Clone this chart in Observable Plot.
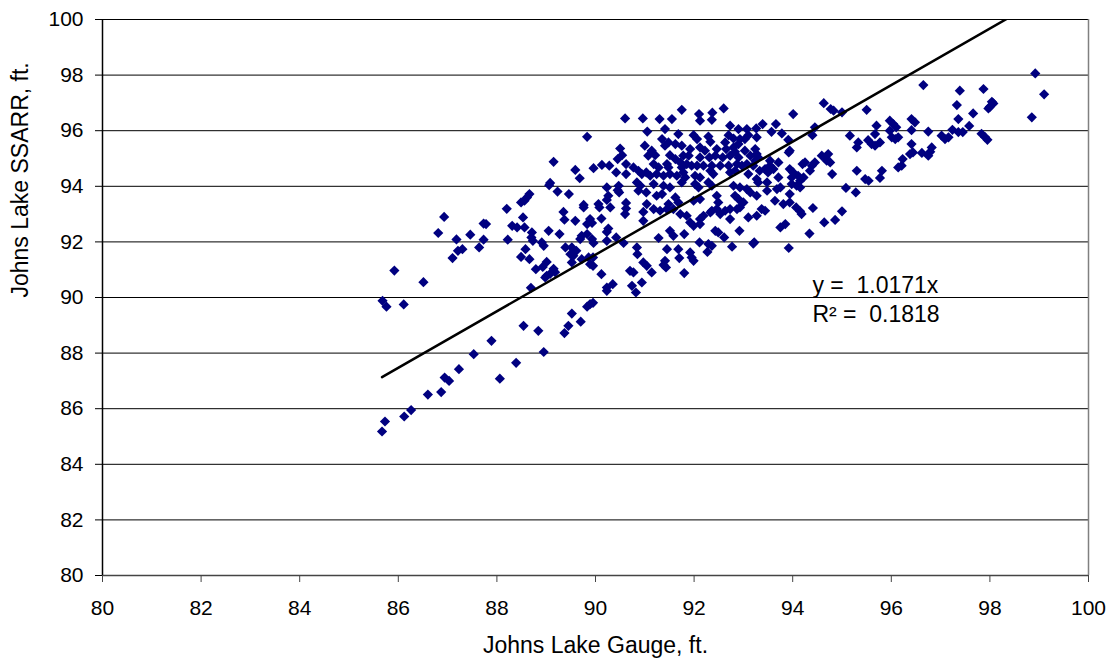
<!DOCTYPE html>
<html>
<head>
<meta charset="utf-8">
<script src="https://cdn.jsdelivr.net/npm/d3@7"></script>
<script src="https://cdn.jsdelivr.net/npm/@observablehq/plot@0.6"></script>
<style>
  html, body { margin: 0; padding: 0; background: #fff; }
  #chart { width: 1111px; height: 666px; }
</style>
</head>
<body>
<div id="chart"></div>
<script>
// [Johns Lake Gauge ft, Johns Lake SSARR ft]
const westPoints = [[88.66,93.72],[88.61,93.60],[88.56,93.48],[88.49,93.42],[88.20,93.19],[86.93,92.90],[88.53,92.88],[87.78,92.64],[87.73,92.66],[88.31,92.58],[88.41,92.52],[88.56,92.52],[86.81,92.32],[87.46,92.26],[88.71,92.34],[88.73,92.04],[88.70,92.16],[87.18,92.09],[87.73,92.08],[88.22,92.08],[88.91,91.98],[88.95,91.86],[89.05,92.40],[87.30,91.74],[87.21,91.68],[87.64,91.80],[88.58,91.74],[88.49,91.46],[88.66,91.38],[87.10,91.42],[89.01,91.28],[88.79,91.02],[88.93,91.10],[85.92,90.97],[89.01,90.78],[88.98,90.72],[86.51,90.55],[88.69,90.35],[85.68,89.88],[85.76,89.67],[86.11,89.75],[88.54,88.98],[88.84,88.80],[87.89,88.44],[87.53,87.96],[88.95,88.04],[88.39,87.65],[87.23,87.42],[86.94,87.12],[87.03,87.00],[88.06,87.08],[86.60,86.51],[86.87,86.60],[86.26,85.95],[86.12,85.72],[85.73,85.54],[85.67,85.18]];

const lowerPoints = [[89.52,89.42],[89.45,88.98],[89.37,88.72],[89.70,89.13],[89.89,89.76],[89.83,89.67],[89.95,89.81],[90.23,90.24],[90.82,90.18],[93.20,91.94],[93.92,91.78]];

const upperLeftPoints = [[90.60,96.44],[90.96,96.44],[91.05,95.97],[89.83,95.78],[91.00,95.46],[90.50,95.36],[90.54,95.12],[90.45,94.98],[91.07,95.10],[89.15,94.88],[90.62,94.80],[89.59,94.59],[89.68,94.29],[89.96,94.65],[90.13,94.77],[90.28,94.74],[90.42,94.50],[90.62,94.44],[90.77,94.68],[90.87,94.56],[90.94,94.44],[91.03,94.50],[90.84,94.14],[90.91,94.02],[90.87,93.84],[89.08,94.12],[89.06,94.04],[89.23,93.81],[89.46,93.72],[90.23,93.96],[90.26,93.66],[90.23,93.51],[90.47,94.02],[90.45,93.86],[90.48,93.78],[91.03,93.78],[89.76,93.33],[90.06,93.36],[90.62,93.40],[91.04,93.36]];

const midLeftPoints = [[89.35,93.08],[89.37,92.80],[89.76,93.24],[90.08,93.24],[90.30,93.24],[90.62,93.20],[90.60,93.00],[90.97,93.08],[89.59,92.76],[89.89,92.82],[89.83,92.64],[89.93,92.68],[90.12,92.84],[90.97,92.76],[89.27,92.28],[90.26,92.48],[90.23,92.36],[89.72,92.22],[89.83,92.28],[89.69,92.10],[89.93,92.10],[89.96,91.96],[89.39,91.80],[89.52,91.80],[89.61,91.68],[89.49,91.56],[89.55,91.50],[90.23,92.04],[90.42,92.16],[90.57,91.96],[90.84,91.80],[90.85,91.56],[89.72,91.38],[89.86,91.44],[89.95,91.44],[89.52,91.26],[89.89,91.20],[89.95,91.14],[89.15,91.03],[89.08,90.85],[89.18,90.91],[90.97,91.26],[91.04,91.14],[90.12,90.84],[90.70,90.96],[90.77,90.90],[90.23,90.36],[90.35,90.48],[90.74,90.42],[90.94,90.54]];

const corePoints = [[91.75,96.75],[92.10,96.60],[92.37,96.65],[92.60,96.80],[91.30,96.42],[91.55,96.42],[92.12,96.36],[92.36,96.39],[91.41,96.06],[92.73,96.18],[92.90,96.06],[93.07,96.06],[93.26,96.08],[91.68,95.88],[91.99,95.84],[92.06,95.70],[92.29,95.79],[92.33,95.60],[92.70,95.84],[92.80,95.72],[92.93,95.70],[91.35,95.70],[91.41,95.46],[91.48,95.58],[91.62,95.52],[91.75,95.46],[92.63,95.58],[92.65,95.34],[92.80,95.40],[92.90,95.52],[93.03,95.70],[93.10,95.84],[93.27,95.76],[91.14,95.28],[91.21,95.12],[91.92,95.34],[92.12,95.40],[92.22,95.28],[92.46,95.34],[91.51,95.12],[91.62,94.98],[91.78,95.10],[91.89,95.10],[92.12,95.04],[92.31,95.04],[92.43,95.10],[92.58,95.04],[92.73,95.10],[92.83,95.24],[92.90,95.04],[93.03,95.28],[93.14,95.10],[93.27,95.16],[93.24,95.34],[91.18,94.80],[91.28,94.68],[91.45,94.80],[91.48,94.68],[91.72,94.86],[91.75,94.68],[91.85,94.80],[91.95,94.74],[92.06,94.74],[92.19,94.74],[92.36,94.74],[92.53,94.74],[92.70,94.74],[92.87,94.80],[92.97,94.74],[93.07,94.80],[93.20,94.74],[91.11,94.38],[91.24,94.44],[91.38,94.38],[91.51,94.44],[91.65,94.38],[91.78,94.50],[91.82,94.32],[92.02,94.38],[92.12,94.32],[92.33,94.56],[92.39,94.44],[92.73,94.50],[92.83,94.56],[93.10,94.44],[93.24,94.92],[93.30,95.04],[91.18,94.08],[91.38,94.02],[91.51,93.96],[91.75,94.14],[92.02,94.08],[92.09,93.96],[92.29,94.14],[92.36,94.02],[92.80,94.02],[92.93,93.96],[93.07,93.90],[93.14,93.78],[93.27,94.26],[93.30,94.14],[91.24,93.66],[91.35,93.72],[91.62,93.60],[91.68,93.42],[91.48,93.36],[91.99,93.48],[92.12,93.54],[92.46,93.66],[92.49,93.42],[92.83,93.66],[92.90,93.54],[93.00,93.42],[93.27,93.66]];

const coreLowerPoints = [[91.18,93.18],[91.31,93.12],[91.45,93.18],[91.58,93.18],[91.72,93.00],[91.85,92.94],[91.92,92.70],[91.99,92.58],[92.12,92.82],[92.19,92.94],[92.12,92.64],[92.36,93.12],[92.46,93.18],[92.63,93.12],[92.73,93.18],[92.87,93.18],[92.93,93.24],[92.33,93.06],[92.53,93.00],[92.73,92.82],[93.10,92.88],[93.27,92.94],[91.51,92.40],[91.58,92.22],[91.80,92.28],[91.28,92.14],[92.43,92.40],[92.49,92.34],[92.61,92.16],[92.92,92.40],[92.11,91.98],[92.29,91.92],[92.36,91.86],[92.27,91.64],[92.77,91.83],[93.22,91.98],[91.45,91.74],[91.68,91.74],[91.70,91.42],[91.92,91.62],[91.95,91.44],[91.99,91.32],[91.41,91.32],[91.43,91.08],[91.38,91.17],[91.14,90.90],[91.80,90.88]];

const eastPoints = [[94.63,96.99],[94.77,96.78],[94.83,96.72],[95.00,96.66],[95.50,96.75],[94.01,96.60],[93.39,96.24],[93.66,96.24],[93.57,95.96],[93.78,95.90],[94.45,96.12],[94.40,95.84],[95.70,96.18],[95.67,95.88],[95.16,95.82],[95.97,96.36],[96.04,96.24],[96.10,96.12],[95.97,96.00],[96.01,95.76],[96.08,95.70],[96.14,95.76],[96.41,96.42],[96.48,96.30],[96.41,96.02],[93.91,95.67],[95.33,95.58],[95.30,95.40],[95.53,95.66],[95.60,95.52],[95.67,95.46],[95.77,95.58],[96.41,95.52],[96.44,95.22],[96.38,95.16],[93.94,95.28],[93.92,95.22],[94.72,95.16],[94.66,95.04],[94.59,95.10],[94.76,94.86],[94.69,94.92],[94.45,94.86],[94.39,94.74],[94.35,94.56],[94.25,94.86],[94.20,94.80],[93.54,94.92],[93.71,94.86],[96.23,94.98],[96.14,94.68],[96.21,94.74],[94.80,94.44],[95.30,94.56],[95.81,94.56],[95.77,94.30],[95.47,94.26],[95.54,94.20],[93.33,94.56],[93.44,94.62],[93.50,94.50],[93.61,94.62],[93.54,94.74],[93.94,94.62],[94.01,94.50],[94.11,94.38],[93.98,94.32],[94.22,94.32],[94.15,94.20],[93.71,94.32],[93.75,93.96],[93.68,93.90],[93.48,94.14],[93.48,93.84],[93.98,94.08],[94.08,94.02],[94.15,93.96],[95.08,93.94],[95.28,93.78],[93.94,93.72],[93.64,93.48],[93.81,93.36],[93.94,93.42],[93.37,93.18],[93.44,93.12],[94.07,93.24],[94.15,93.10],[94.18,93.00],[94.41,93.22],[95.00,93.10],[94.86,92.79],[94.64,92.70],[93.75,92.52],[93.85,92.64],[94.34,92.30]];

const farEastPoints = [[98.92,98.06],[96.65,97.64],[97.87,97.50],[97.39,97.44],[99.10,97.31],[97.33,96.92],[98.04,97.04],[98.00,96.86],[97.97,96.80],[98.07,96.98],[97.66,96.62],[98.85,96.48],[97.36,96.42],[97.58,96.17],[96.75,95.97],[97.24,96.03],[97.36,95.95],[97.45,95.95],[97.83,95.89],[97.90,95.77],[97.95,95.67],[97.02,95.82],[97.09,95.70],[97.16,95.76],[96.62,95.20],[96.75,95.10],[96.82,95.40],[96.79,95.24]];

const xTicks = [80, 82, 84, 86, 88, 90, 92, 94, 96, 98, 100];
const yTicks = [80, 82, 84, 86, 88, 90, 92, 94, 96, 98, 100];
const xTitle = "Johns Lake Gauge, ft.";
const yTitle = "Johns Lake SSARR, ft.";
const trendSlope = 1.0171;
const equationLines = ["y =  1.0171x", "R\u00B2 =  0.1818"];

const points = [...westPoints, ...lowerPoints, ...upperLeftPoints, ...midLeftPoints,
  ...corePoints, ...coreLowerPoints, ...eastPoints, ...farEastPoints]
  .map(([gauge, ssarr]) => ({gauge, ssarr}));

const gMin = d3.min(points, d => d.gauge);
const gMax = d3.max(points, d => d.gauge);
const trend = [gMin, gMax].map(g => ({gauge: g, ssarr: trendSlope * g}));

const labels = [
  {gauge: 94.4, ssarr: 90.42, text: equationLines[0]},
  {gauge: 94.4, ssarr: 89.38, text: equationLines[1]}
];

const chart = Plot.plot({
  width: 1111,
  height: 666,
  marginTop: 19,
  marginBottom: 91,
  marginLeft: 102,
  marginRight: 23,
  style: {fontFamily: "'Liberation Sans', Arial, sans-serif", fontSize: "21px", background: "#fff", color: "#000"},
  x: {domain: [80, 100]},
  y: {domain: [80, 100]},
  marks: [
    Plot.ruleY(yTicks, {stroke: "#000", strokeWidth: 1}),
    Plot.ruleX([100], {stroke: "#808080", strokeWidth: 1.5}),
    Plot.dot(points, {x: "gauge", y: "ssarr", symbol: "diamond2", r: 4.6, fill: "#000080"}),
    Plot.line(trend, {x: "gauge", y: "ssarr", stroke: "#000", strokeWidth: 2.5, clip: true}),
    Plot.text(labels, {x: "gauge", y: "ssarr", text: "text", textAnchor: "start", fontSize: 23, fill: "#000"}),
    Plot.ruleY([80], {stroke: "#444", strokeWidth: 1.5}),
    Plot.ruleX([80], {stroke: "#000", strokeWidth: 1.5}),
    Plot.axisX({ticks: xTicks, tickSize: 7, tickPadding: 18, label: null, stroke: "#444", fill: "#000"}),
    Plot.axisY({ticks: yTicks, tickSize: 7, tickPadding: 12, label: null, stroke: "#000", fill: "#000"}),
    Plot.text([xTitle], {frameAnchor: "bottom", dy: 77, fontSize: 23, fill: "#000"}),
    Plot.text([yTitle], {frameAnchor: "left", dx: -82, rotate: -90, fontSize: 23, fill: "#000"})
  ]
});
document.getElementById("chart").append(chart);
</script>
</body>
</html>
